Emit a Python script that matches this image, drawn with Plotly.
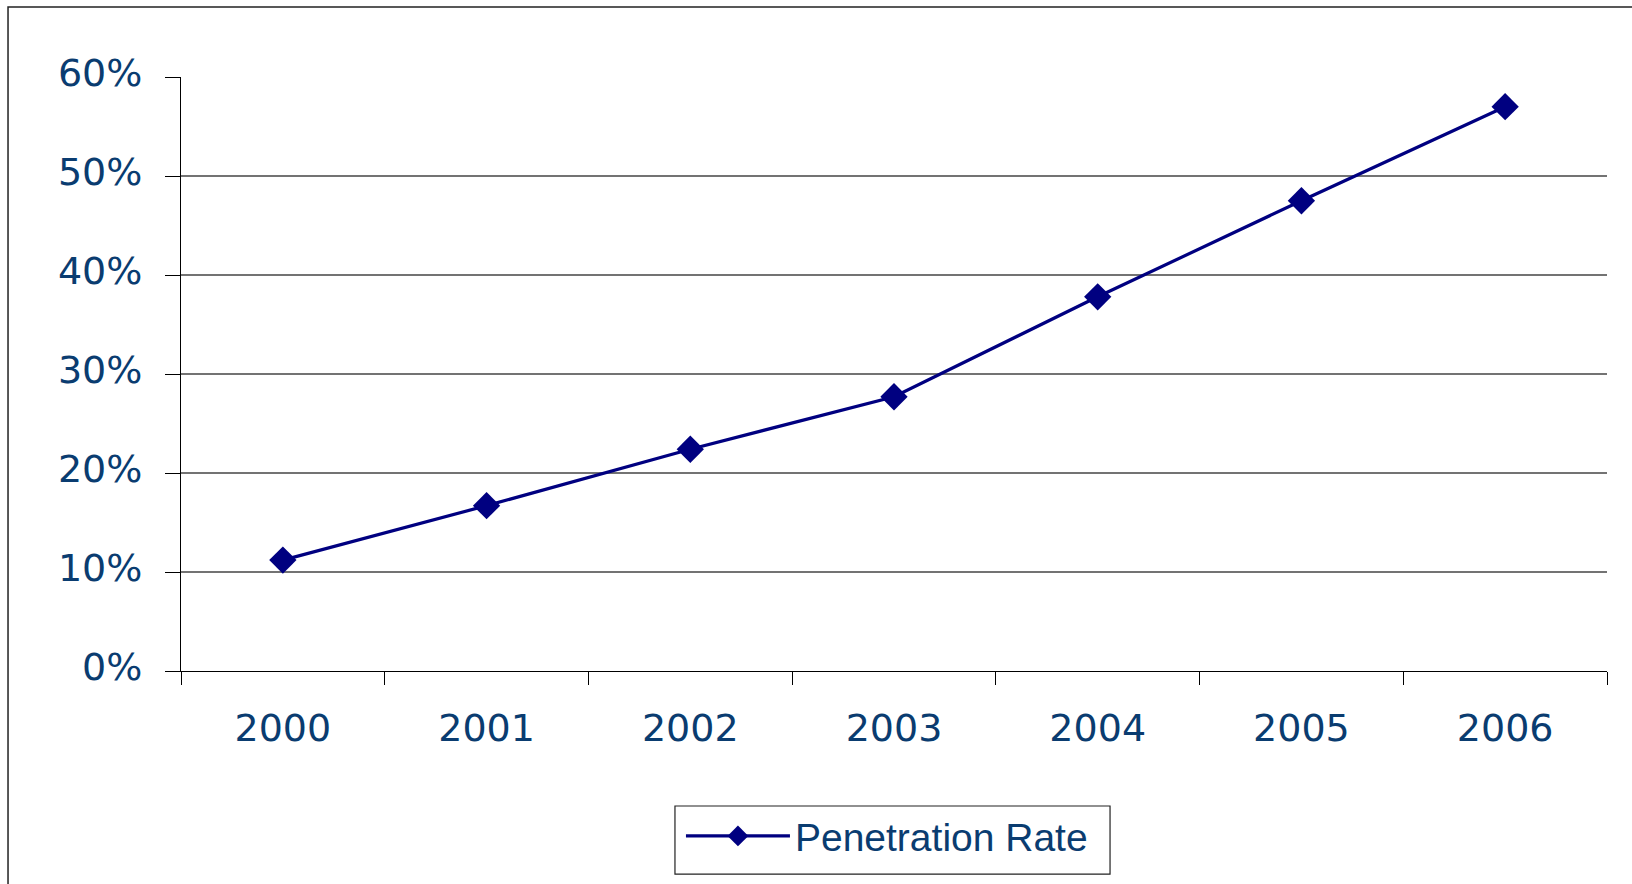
import plotly.graph_objects as go

# Penetration rate by year
years = ["2000", "2001", "2002", "2003", "2004", "2005", "2006"]
penetration_rate = [0.112, 0.167, 0.224, 0.277, 0.378, 0.475, 0.570]
series_name = "Penetration Rate"
grid_levels = [0.1, 0.2, 0.3, 0.4, 0.5]

NAVY = "#000080"
TEXT = "#0A3C70"

fig = go.Figure()
fig.add_trace(go.Scatter(
    x=years,
    y=penetration_rate,
    mode="lines+markers",
    name=series_name,
    line=dict(color=NAVY, width=3.2),
    marker=dict(symbol="diamond", size=21, color=NAVY),
    showlegend=True,
))

shapes = []
# horizontal gridlines
for g in grid_levels:
    shapes.append(dict(type="line", xref="paper", yref="y", x0=0, x1=1, y0=g, y1=g,
                       line=dict(color="#444444", width=1.3), layer="below"))
# outer chart frame
shapes.append(dict(type="rect", xref="paper", yref="paper", x0=-0.1213, x1=1.1,
                   y0=-0.6, y1=1.1178, line=dict(color="#222222", width=1.5)))
# legend box
shapes.append(dict(type="rect", xref="paper", yref="paper", x0=0.3464, x1=0.6515,
                   y0=-0.3418, y1=-0.2273, line=dict(color="#222222", width=1.2)))

fig.update_layout(
    width=1632, height=884,
    margin=dict(l=181, r=25, t=77, b=213),
    paper_bgcolor="white", plot_bgcolor="white",
    shapes=shapes,
    xaxis=dict(
        type="category", categoryorder="array", categoryarray=years,
        range=[-0.5, 6.5], showgrid=False, zeroline=False,
        showline=True, linecolor="black", linewidth=1,
        ticks="outside", tickson="boundaries", ticklen=13, tickcolor="black", tickwidth=1,
        tickfont=dict(family="DejaVu Sans", size=38, color=TEXT),
        ticklabelstandoff=23,
    ),
    yaxis=dict(
        range=[0, 0.6], dtick=0.1, tickformat=".0%",
        showgrid=False, zeroline=False,
        showline=True, linecolor="black", linewidth=1,
        ticks="outside", ticklen=15, tickcolor="black", tickwidth=1,
        tickfont=dict(family="DejaVu Sans", size=38, color=TEXT),
        ticklabelstandoff=15, ticklabelshift=-4,
    ),
    legend=dict(
        x=0.3506, xanchor="left", y=-0.2240, yanchor="top",
        borderwidth=0, bgcolor="rgba(0,0,0,0)",
        font=dict(family="Liberation Sans", size=39, color=TEXT),
        itemwidth=104,
    ),
)

fig.write_html("out.html")
